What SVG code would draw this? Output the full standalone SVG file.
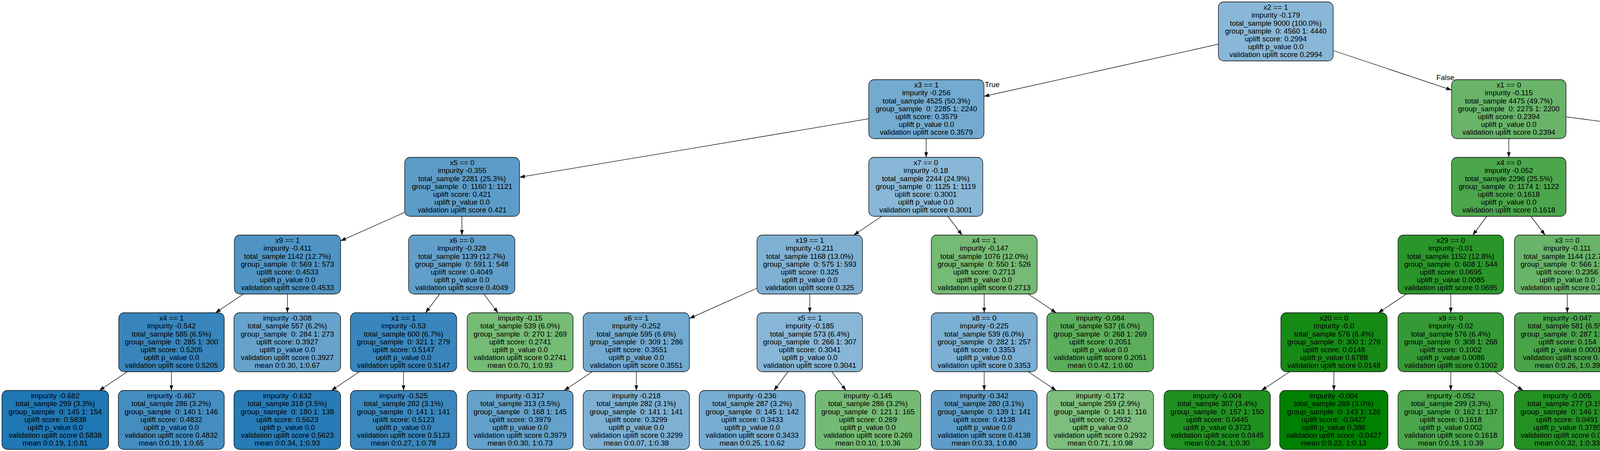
<svg xmlns="http://www.w3.org/2000/svg" width="6533" height="1155" viewBox="0 0 6533 1155">
<style>
.b{fill:#1f77b4;stroke:#000;stroke-width:1.3}
.g{fill:#008000;stroke:#000;stroke-width:1.3}
text{font-family:"Liberation Sans",Arial,sans-serif;font-size:18.8px;fill:#000;text-anchor:middle;white-space:pre}
.lbl{text-anchor:start}
.lbr{text-anchor:end}
.e line{stroke:#000;stroke-width:1.3;fill:none;marker-end:url(#ah)}
</style>
<defs>
<marker id="ah" markerUnits="userSpaceOnUse" markerWidth="14" markerHeight="10" refX="13.5" refY="4.8" orient="auto"><path d="M0,0 L13.5,4.8 L0,9.6 z" fill="#000"/></marker>
</defs>
<rect width="6533" height="1155" fill="#fff"/>
<g id="connectors" class="e">
<line x1="3119" y1="113.2" x2="2519" y2="246.7"/>
<line x1="3413" y1="129.5" x2="3716" y2="230.6"/>
<line x1="2224" y1="304.2" x2="1330" y2="453.9"/>
<line x1="2371" y1="355" x2="2371" y2="403"/>
<line x1="3862.5" y1="355" x2="3862.5" y2="403"/>
<line x1="4009" y1="299.1" x2="5203" y2="458.9"/>
<line x1="1036" y1="543.9" x2="872" y2="616.9"/>
<line x1="1182.5" y1="554" x2="1182.5" y2="602"/>
<line x1="2257.3" y1="554" x2="2185.7" y2="602"/>
<line x1="2426.7" y1="554" x2="2462.8" y2="602"/>
<line x1="3806.2" y1="554" x2="3770.3" y2="602"/>
<line x1="3919.2" y1="554" x2="3955.3" y2="602"/>
<line x1="5349.75" y1="554" x2="5349.75" y2="602"/>
<line x1="5496" y1="517.7" x2="5958" y2="641.4"/>
<line x1="623.3" y1="753" x2="551.7" y2="801"/>
<line x1="735.75" y1="753" x2="735.75" y2="801"/>
<line x1="1125.5" y1="753" x2="1089.5" y2="801"/>
<line x1="1238.7" y1="753" x2="1274.8" y2="801"/>
<line x1="1938" y1="738" x2="1765" y2="815.5"/>
<line x1="2073" y1="753" x2="2073" y2="801"/>
<line x1="2519.5" y1="753" x2="2519.5" y2="801"/>
<line x1="2632.2" y1="753" x2="2703.8" y2="801"/>
<line x1="3600.6" y1="753" x2="3528.4" y2="801"/>
<line x1="3714" y1="753" x2="3714" y2="801"/>
<line x1="4012.25" y1="753" x2="4012.25" y2="801"/>
<line x1="4125.1" y1="753" x2="4196.9" y2="801"/>
<line x1="5293.7" y1="753" x2="5257.8" y2="801"/>
<line x1="5406.7" y1="753" x2="5442.8" y2="801"/>
<line x1="6093" y1="753" x2="6093" y2="801"/>
<line x1="6205.5" y1="753" x2="6277" y2="801"/>
<line x1="326.1" y1="952" x2="254.4" y2="1000"/>
<line x1="438.75" y1="952" x2="438.75" y2="1000"/>
<line x1="920.1" y1="952" x2="848.4" y2="1000"/>
<line x1="1033" y1="952" x2="1033" y2="1000"/>
<line x1="1516.1" y1="952" x2="1444.4" y2="1000"/>
<line x1="1629" y1="952" x2="1629" y2="1000"/>
<line x1="2017" y1="952" x2="1981.5" y2="1000"/>
<line x1="2129.5" y1="952" x2="2165.5" y2="1000"/>
<line x1="2519.5" y1="952" x2="2519.5" y2="1000"/>
<line x1="2632.2" y1="952" x2="2703.8" y2="1000"/>
<line x1="3301.6" y1="952" x2="3229.4" y2="1000"/>
<line x1="3414.75" y1="952" x2="3414.75" y2="1000"/>
<line x1="3714" y1="952" x2="3714" y2="1000"/>
<line x1="3827.1" y1="952" x2="3898.9" y2="1000"/>
<line x1="4310" y1="952" x2="4310" y2="1000"/>
<line x1="4422.5" y1="952" x2="4494" y2="1000"/>
<line x1="5088.4" y1="952" x2="5016.6" y2="1000"/>
<line x1="5201.5" y1="952" x2="5201.5" y2="1000"/>
<line x1="5499.5" y1="952" x2="5499.5" y2="1000"/>
<line x1="5612" y1="952" x2="5683.5" y2="1000"/>
<line x1="6093" y1="952" x2="6093" y2="1000"/>
<line x1="6205.5" y1="952" x2="6277" y2="1000"/>
</g>
<g id="edge-labels">
<text class="lbl" x="2521" y="222.7">True</text>
<text class="lbr" x="3723" y="205">False</text>
</g>
<g id="n0"><rect class="b" fill-opacity="0.53" x="3119" y="5" width="294" height="151" rx="14"/><text y="25.3"><tspan x="3266">x2 == 1</tspan><tspan x="3266" dy="20.1">impurity -0.179</tspan><tspan x="3266" dy="20.1">total_sample 9000 (100.0%)</tspan><tspan x="3266" dy="20.1">group_sample  0: 4560 1: 4440</tspan><tspan x="3266" dy="20.1">uplift score: 0.2994</tspan><tspan x="3266" dy="20.1">uplift p_value 0.0</tspan><tspan x="3266" dy="20.1">validation uplift score 0.2994</tspan></text></g>
<g id="n1"><rect class="b" fill-opacity="0.627" x="2224" y="204" width="295" height="151" rx="14"/><text y="224.3"><tspan x="2371.5">x3 == 1</tspan><tspan x="2371.5" dy="20.1">impurity -0.256</tspan><tspan x="2371.5" dy="20.1">total_sample 4525 (50.3%)</tspan><tspan x="2371.5" dy="20.1">group_sample  0: 2285 1: 2240</tspan><tspan x="2371.5" dy="20.1">uplift score: 0.3579</tspan><tspan x="2371.5" dy="20.1">uplift p_value 0.0</tspan><tspan x="2371.5" dy="20.1">validation uplift score 0.3579</tspan></text></g>
<g id="n2"><rect class="g" fill-opacity="0.588" x="3716" y="204" width="293" height="151" rx="14"/><text y="224.3"><tspan x="3862.5">x1 == 0</tspan><tspan x="3862.5" dy="20.1">impurity -0.115</tspan><tspan x="3862.5" dy="20.1">total_sample 4475 (49.7%)</tspan><tspan x="3862.5" dy="20.1">group_sample  0: 2275 1: 2200</tspan><tspan x="3862.5" dy="20.1">uplift score: 0.2394</tspan><tspan x="3862.5" dy="20.1">uplift p_value 0.0</tspan><tspan x="3862.5" dy="20.1">validation uplift score 0.2394</tspan></text></g>
<g id="n3"><rect class="b" fill-opacity="0.731" x="1036" y="403" width="294" height="151" rx="14"/><text y="423.3"><tspan x="1183">x5 == 0</tspan><tspan x="1183" dy="20.1">impurity -0.355</tspan><tspan x="1183" dy="20.1">total_sample 2281 (25.3%)</tspan><tspan x="1183" dy="20.1">group_sample  0: 1160 1: 1121</tspan><tspan x="1183" dy="20.1">uplift score: 0.421</tspan><tspan x="1183" dy="20.1">uplift p_value 0.0</tspan><tspan x="1183" dy="20.1">validation uplift score 0.421</tspan></text></g>
<g id="n4"><rect class="b" fill-opacity="0.531" x="2224" y="403" width="292" height="151" rx="14"/><text y="423.3"><tspan x="2370">x7 == 0</tspan><tspan x="2370" dy="20.1">impurity -0.18</tspan><tspan x="2370" dy="20.1">total_sample 2244 (24.9%)</tspan><tspan x="2370" dy="20.1">group_sample  0: 1125 1: 1119</tspan><tspan x="2370" dy="20.1">uplift score: 0.3001</tspan><tspan x="2370" dy="20.1">uplift p_value 0.0</tspan><tspan x="2370" dy="20.1">validation uplift score 0.3001</tspan></text></g>
<g id="n5"><rect class="g" fill-opacity="0.701" x="3716" y="403" width="293" height="151" rx="14"/><text y="423.3"><tspan x="3862.5">x4 == 0</tspan><tspan x="3862.5" dy="20.1">impurity -0.052</tspan><tspan x="3862.5" dy="20.1">total_sample 2296 (25.5%)</tspan><tspan x="3862.5" dy="20.1">group_sample  0: 1174 1: 1122</tspan><tspan x="3862.5" dy="20.1">uplift score: 0.1618</tspan><tspan x="3862.5" dy="20.1">uplift p_value 0.0</tspan><tspan x="3862.5" dy="20.1">validation uplift score 0.1618</tspan></text></g>
<g id="n6"><rect class="b" fill-opacity="0.554" x="5203" y="403" width="293" height="151" rx="14"/><text y="423.3"><tspan x="5349.5">x5 == 0</tspan><tspan x="5349.5" dy="20.1">impurity -0.197</tspan><tspan x="5349.5" dy="20.1">total_sample 2179 (24.2%)</tspan><tspan x="5349.5" dy="20.1">group_sample  0: 1101 1: 1078</tspan><tspan x="5349.5" dy="20.1">uplift score: 0.3142</tspan><tspan x="5349.5" dy="20.1">uplift p_value 0.0</tspan><tspan x="5349.5" dy="20.1">validation uplift score 0.3142</tspan></text></g>
<g id="n7"><rect class="b" fill-opacity="0.784" x="600" y="602" width="272" height="151" rx="14"/><text y="622.3"><tspan x="736">x9 == 1</tspan><tspan x="736" dy="20.1">impurity -0.411</tspan><tspan x="736" dy="20.1">total_sample 1142 (12.7%)</tspan><tspan x="736" dy="20.1">group_sample  0: 569 1: 573</tspan><tspan x="736" dy="20.1">uplift score: 0.4533</tspan><tspan x="736" dy="20.1">uplift p_value 0.0</tspan><tspan x="736" dy="20.1">validation uplift score 0.4533</tspan></text></g>
<g id="n8"><rect class="b" fill-opacity="0.704" x="1046" y="602" width="272" height="151" rx="14"/><text y="622.3"><tspan x="1182">x6 == 0</tspan><tspan x="1182" dy="20.1">impurity -0.328</tspan><tspan x="1182" dy="20.1">total_sample 1139 (12.7%)</tspan><tspan x="1182" dy="20.1">group_sample  0: 591 1: 548</tspan><tspan x="1182" dy="20.1">uplift score: 0.4049</tspan><tspan x="1182" dy="20.1">uplift p_value 0.0</tspan><tspan x="1182" dy="20.1">validation uplift score 0.4049</tspan></text></g>
<g id="n9"><rect class="b" fill-opacity="0.572" x="1938" y="602" width="270" height="151" rx="14"/><text y="622.3"><tspan x="2073">x19 == 1</tspan><tspan x="2073" dy="20.1">impurity -0.211</tspan><tspan x="2073" dy="20.1">total_sample 1168 (13.0%)</tspan><tspan x="2073" dy="20.1">group_sample  0: 575 1: 593</tspan><tspan x="2073" dy="20.1">uplift score: 0.325</tspan><tspan x="2073" dy="20.1">uplift p_value 0.0</tspan><tspan x="2073" dy="20.1">validation uplift score 0.325</tspan></text></g>
<g id="n10"><rect class="g" fill-opacity="0.541" x="2384" y="602" width="271" height="151" rx="14"/><text y="622.3"><tspan x="2519.5">x4 == 1</tspan><tspan x="2519.5" dy="20.1">impurity -0.147</tspan><tspan x="2519.5" dy="20.1">total_sample 1076 (12.0%)</tspan><tspan x="2519.5" dy="20.1">group_sample  0: 550 1: 526</tspan><tspan x="2519.5" dy="20.1">uplift score: 0.2713</tspan><tspan x="2519.5" dy="20.1">uplift p_value 0.0</tspan><tspan x="2519.5" dy="20.1">validation uplift score 0.2713</tspan></text></g>
<g id="n11"><rect class="g" fill-opacity="0.836" x="3579" y="602" width="270" height="151" rx="14"/><text y="622.3"><tspan x="3714">x29 == 0</tspan><tspan x="3714" dy="20.1">impurity -0.01</tspan><tspan x="3714" dy="20.1">total_sample 1152 (12.8%)</tspan><tspan x="3714" dy="20.1">group_sample  0: 608 1: 544</tspan><tspan x="3714" dy="20.1">uplift score: 0.0695</tspan><tspan x="3714" dy="20.1">uplift p_value 0.0085</tspan><tspan x="3714" dy="20.1">validation uplift score 0.0695</tspan></text></g>
<g id="n12"><rect class="g" fill-opacity="0.593" x="3877" y="602" width="270" height="151" rx="14"/><text y="622.3"><tspan x="4012">x3 == 0</tspan><tspan x="4012" dy="20.1">impurity -0.111</tspan><tspan x="4012" dy="20.1">total_sample 1144 (12.7%)</tspan><tspan x="4012" dy="20.1">group_sample  0: 566 1: 578</tspan><tspan x="4012" dy="20.1">uplift score: 0.2356</tspan><tspan x="4012" dy="20.1">uplift p_value 0.0</tspan><tspan x="4012" dy="20.1">validation uplift score 0.2356</tspan></text></g>
<g id="n13"><rect class="b" fill-opacity="0.598" x="5215" y="602" width="270" height="151" rx="14"/><text y="622.3"><tspan x="5350">x7 == 0</tspan><tspan x="5350" dy="20.1">impurity -0.232</tspan><tspan x="5350" dy="20.1">total_sample 1138 (12.6%)</tspan><tspan x="5350" dy="20.1">group_sample  0: 556 1: 582</tspan><tspan x="5350" dy="20.1">uplift score: 0.3404</tspan><tspan x="5350" dy="20.1">uplift p_value 0.0</tspan><tspan x="5350" dy="20.1">validation uplift score 0.3404</tspan></text></g>
<g id="n14"><rect class="b" fill-opacity="0.55" x="5958" y="602" width="270" height="151" rx="14"/><text y="622.3"><tspan x="6093">x27 == 1</tspan><tspan x="6093" dy="20.1">impurity -0.194</tspan><tspan x="6093" dy="20.1">total_sample 1041 (11.6%)</tspan><tspan x="6093" dy="20.1">group_sample  0: 545 1: 496</tspan><tspan x="6093" dy="20.1">uplift score: 0.3112</tspan><tspan x="6093" dy="20.1">uplift p_value 0.0</tspan><tspan x="6093" dy="20.1">validation uplift score 0.3112</tspan></text></g>
<g id="n15"><rect class="b" fill-opacity="0.895" x="304" y="801" width="270" height="151" rx="14"/><text y="821.3"><tspan x="439">x4 == 1</tspan><tspan x="439" dy="20.1">impurity -0.542</tspan><tspan x="439" dy="20.1">total_sample 585 (6.5%)</tspan><tspan x="439" dy="20.1">group_sample  0: 285 1: 300</tspan><tspan x="439" dy="20.1">uplift score: 0.5205</tspan><tspan x="439" dy="20.1">uplift p_value 0.0</tspan><tspan x="439" dy="20.1">validation uplift score 0.5205</tspan></text></g>
<g id="n16"><rect class="b" fill-opacity="0.684" x="599" y="801" width="273" height="151" rx="14"/><text y="821.3"><tspan x="735.5">impurity -0.308</tspan><tspan x="735.5" dy="20.1">total_sample 557 (6.2%)</tspan><tspan x="735.5" dy="20.1">group_sample  0: 284 1: 273</tspan><tspan x="735.5" dy="20.1">uplift score: 0.3927</tspan><tspan x="735.5" dy="20.1">uplift p_value 0.0</tspan><tspan x="735.5" dy="20.1">validation uplift score 0.3927</tspan><tspan x="735.5" dy="20.1">mean 0:0.30, 1:0.67</tspan></text></g>
<g id="n17"><rect class="b" fill-opacity="0.886" x="897" y="801" width="272" height="151" rx="14"/><text y="821.3"><tspan x="1033">x1 == 1</tspan><tspan x="1033" dy="20.1">impurity -0.53</tspan><tspan x="1033" dy="20.1">total_sample 600 (6.7%)</tspan><tspan x="1033" dy="20.1">group_sample  0: 321 1: 279</tspan><tspan x="1033" dy="20.1">uplift score: 0.5147</tspan><tspan x="1033" dy="20.1">uplift p_value 0.0</tspan><tspan x="1033" dy="20.1">validation uplift score 0.5147</tspan></text></g>
<g id="n18"><rect class="g" fill-opacity="0.537" x="1196" y="801" width="271" height="151" rx="14"/><text y="821.3"><tspan x="1331.5">impurity -0.15</tspan><tspan x="1331.5" dy="20.1">total_sample 539 (6.0%)</tspan><tspan x="1331.5" dy="20.1">group_sample  0: 270 1: 269</tspan><tspan x="1331.5" dy="20.1">uplift score: 0.2741</tspan><tspan x="1331.5" dy="20.1">uplift p_value 0.0</tspan><tspan x="1331.5" dy="20.1">validation uplift score 0.2741</tspan><tspan x="1331.5" dy="20.1">mean 0:0.70, 1:0.93</tspan></text></g>
<g id="n19"><rect class="b" fill-opacity="0.622" x="1493" y="801" width="272" height="151" rx="14"/><text y="821.3"><tspan x="1629">x6 == 1</tspan><tspan x="1629" dy="20.1">impurity -0.252</tspan><tspan x="1629" dy="20.1">total_sample 595 (6.6%)</tspan><tspan x="1629" dy="20.1">group_sample  0: 309 1: 286</tspan><tspan x="1629" dy="20.1">uplift score: 0.3551</tspan><tspan x="1629" dy="20.1">uplift p_value 0.0</tspan><tspan x="1629" dy="20.1">validation uplift score 0.3551</tspan></text></g>
<g id="n20"><rect class="b" fill-opacity="0.538" x="1938" y="801" width="270" height="151" rx="14"/><text y="821.3"><tspan x="2073">x5 == 1</tspan><tspan x="2073" dy="20.1">impurity -0.185</tspan><tspan x="2073" dy="20.1">total_sample 573 (6.4%)</tspan><tspan x="2073" dy="20.1">group_sample  0: 266 1: 307</tspan><tspan x="2073" dy="20.1">uplift score: 0.3041</tspan><tspan x="2073" dy="20.1">uplift p_value 0.0</tspan><tspan x="2073" dy="20.1">validation uplift score 0.3041</tspan></text></g>
<g id="n21"><rect class="b" fill-opacity="0.589" x="2384" y="801" width="271" height="151" rx="14"/><text y="821.3"><tspan x="2519.5">x8 == 0</tspan><tspan x="2519.5" dy="20.1">impurity -0.225</tspan><tspan x="2519.5" dy="20.1">total_sample 539 (6.0%)</tspan><tspan x="2519.5" dy="20.1">group_sample  0: 282 1: 257</tspan><tspan x="2519.5" dy="20.1">uplift score: 0.3353</tspan><tspan x="2519.5" dy="20.1">uplift p_value 0.0</tspan><tspan x="2519.5" dy="20.1">validation uplift score 0.3353</tspan></text></g>
<g id="n22"><rect class="g" fill-opacity="0.638" x="2680" y="801" width="273" height="151" rx="14"/><text y="821.3"><tspan x="2816.5">impurity -0.084</tspan><tspan x="2816.5" dy="20.1">total_sample 537 (6.0%)</tspan><tspan x="2816.5" dy="20.1">group_sample  0: 268 1: 269</tspan><tspan x="2816.5" dy="20.1">uplift score: 0.2051</tspan><tspan x="2816.5" dy="20.1">uplift p_value 0.0</tspan><tspan x="2816.5" dy="20.1">validation uplift score 0.2051</tspan><tspan x="2816.5" dy="20.1">mean 0:0.42, 1:0.60</tspan></text></g>
<g id="n23"><rect class="g" fill-opacity="0.916" x="3279" y="801" width="272" height="151" rx="14"/><text y="821.3"><tspan x="3415">x20 == 0</tspan><tspan x="3415" dy="20.1">impurity -0.0</tspan><tspan x="3415" dy="20.1">total_sample 576 (6.4%)</tspan><tspan x="3415" dy="20.1">group_sample  0: 300 1: 276</tspan><tspan x="3415" dy="20.1">uplift score: 0.0148</tspan><tspan x="3415" dy="20.1">uplift p_value 0.6788</tspan><tspan x="3415" dy="20.1">validation uplift score 0.0148</tspan></text></g>
<g id="n24"><rect class="g" fill-opacity="0.791" x="3579" y="801" width="270" height="151" rx="14"/><text y="821.3"><tspan x="3714">x9 == 0</tspan><tspan x="3714" dy="20.1">impurity -0.02</tspan><tspan x="3714" dy="20.1">total_sample 576 (6.4%)</tspan><tspan x="3714" dy="20.1">group_sample  0: 308 1: 268</tspan><tspan x="3714" dy="20.1">uplift score: 0.1002</tspan><tspan x="3714" dy="20.1">uplift p_value 0.0086</tspan><tspan x="3714" dy="20.1">validation uplift score 0.1002</tspan></text></g>
<g id="n25"><rect class="g" fill-opacity="0.713" x="3877" y="801" width="271" height="151" rx="14"/><text y="821.3"><tspan x="4012.5">impurity -0.047</tspan><tspan x="4012.5" dy="20.1">total_sample 581 (6.5%)</tspan><tspan x="4012.5" dy="20.1">group_sample  0: 287 1: 294</tspan><tspan x="4012.5" dy="20.1">uplift score: 0.154</tspan><tspan x="4012.5" dy="20.1">uplift p_value 0.0001</tspan><tspan x="4012.5" dy="20.1">validation uplift score 0.154</tspan><tspan x="4012.5" dy="20.1">mean 0:0.26, 1:0.39</tspan></text></g>
<g id="n26"><rect class="b" fill-opacity="0.595" x="4174" y="801" width="272" height="151" rx="14"/><text y="821.3"><tspan x="4310">x8 == 1</tspan><tspan x="4310" dy="20.1">impurity -0.229</tspan><tspan x="4310" dy="20.1">total_sample 563 (6.3%)</tspan><tspan x="4310" dy="20.1">group_sample  0: 279 1: 284</tspan><tspan x="4310" dy="20.1">uplift score: 0.3386</tspan><tspan x="4310" dy="20.1">uplift p_value 0.0</tspan><tspan x="4310" dy="20.1">validation uplift score 0.3386</tspan></text></g>
<g id="n27"><rect class="b" fill-opacity="0.559" x="5066" y="801" width="271" height="151" rx="14"/><text y="821.3"><tspan x="5201.5">x8 == 1</tspan><tspan x="5201.5" dy="20.1">impurity -0.201</tspan><tspan x="5201.5" dy="20.1">total_sample 577 (6.4%)</tspan><tspan x="5201.5" dy="20.1">group_sample  0: 268 1: 309</tspan><tspan x="5201.5" dy="20.1">uplift score: 0.317</tspan><tspan x="5201.5" dy="20.1">uplift p_value 0.0</tspan><tspan x="5201.5" dy="20.1">validation uplift score 0.317</tspan></text></g>
<g id="n28"><rect class="b" fill-opacity="0.673" x="5364" y="801" width="271" height="151" rx="14"/><text y="821.3"><tspan x="5499.5">x4 == 1</tspan><tspan x="5499.5" dy="20.1">impurity -0.298</tspan><tspan x="5499.5" dy="20.1">total_sample 561 (6.2%)</tspan><tspan x="5499.5" dy="20.1">group_sample  0: 288 1: 273</tspan><tspan x="5499.5" dy="20.1">uplift score: 0.3861</tspan><tspan x="5499.5" dy="20.1">uplift p_value 0.0</tspan><tspan x="5499.5" dy="20.1">validation uplift score 0.3861</tspan></text></g>
<g id="n29"><rect class="b" fill-opacity="0.648" x="5958" y="801" width="270" height="151" rx="14"/><text y="821.3"><tspan x="6093">x38 == 1</tspan><tspan x="6093" dy="20.1">impurity -0.275</tspan><tspan x="6093" dy="20.1">total_sample 538 (6.0%)</tspan><tspan x="6093" dy="20.1">group_sample  0: 277 1: 261</tspan><tspan x="6093" dy="20.1">uplift score: 0.3707</tspan><tspan x="6093" dy="20.1">uplift p_value 0.0</tspan><tspan x="6093" dy="20.1">validation uplift score 0.3707</tspan></text></g>
<g id="n30"><rect class="g" fill-opacity="0.572" x="6254" y="801" width="271" height="151" rx="14"/><text y="821.3"><tspan x="6389.5">impurity -0.125</tspan><tspan x="6389.5" dy="20.1">total_sample 503 (5.6%)</tspan><tspan x="6389.5" dy="20.1">group_sample  0: 268 1: 235</tspan><tspan x="6389.5" dy="20.1">uplift score: 0.2499</tspan><tspan x="6389.5" dy="20.1">uplift p_value 0.0</tspan><tspan x="6389.5" dy="20.1">validation uplift score 0.2499</tspan><tspan x="6389.5" dy="20.1">mean 0:0.49, 1:0.71</tspan></text></g>
<g id="n31"><rect class="b" fill-opacity="1" x="5" y="1000" width="273" height="151" rx="14"/><text y="1020.3"><tspan x="141.5">impurity -0.682</tspan><tspan x="141.5" dy="20.1">total_sample 299 (3.3%)</tspan><tspan x="141.5" dy="20.1">group_sample  0: 145 1: 154</tspan><tspan x="141.5" dy="20.1">uplift score: 0.5838</tspan><tspan x="141.5" dy="20.1">uplift p_value 0.0</tspan><tspan x="141.5" dy="20.1">validation uplift score 0.5838</tspan><tspan x="141.5" dy="20.1">mean 0:0.19, 1:0.81</tspan></text></g>
<g id="n32"><rect class="b" fill-opacity="0.834" x="303" y="1000" width="271" height="151" rx="14"/><text y="1020.3"><tspan x="438.5">impurity -0.467</tspan><tspan x="438.5" dy="20.1">total_sample 286 (3.2%)</tspan><tspan x="438.5" dy="20.1">group_sample  0: 140 1: 146</tspan><tspan x="438.5" dy="20.1">uplift score: 0.4832</tspan><tspan x="438.5" dy="20.1">uplift p_value 0.0</tspan><tspan x="438.5" dy="20.1">validation uplift score 0.4832</tspan><tspan x="438.5" dy="20.1">mean 0:0.19, 1:0.65</tspan></text></g>
<g id="n33"><rect class="b" fill-opacity="0.964" x="599" y="1000" width="273" height="151" rx="14"/><text y="1020.3"><tspan x="735.5">impurity -0.632</tspan><tspan x="735.5" dy="20.1">total_sample 318 (3.5%)</tspan><tspan x="735.5" dy="20.1">group_sample  0: 180 1: 138</tspan><tspan x="735.5" dy="20.1">uplift score: 0.5623</tspan><tspan x="735.5" dy="20.1">uplift p_value 0.0</tspan><tspan x="735.5" dy="20.1">validation uplift score 0.5623</tspan><tspan x="735.5" dy="20.1">mean 0:0.34, 1:0.93</tspan></text></g>
<g id="n34"><rect class="b" fill-opacity="0.882" x="897" y="1000" width="272" height="151" rx="14"/><text y="1020.3"><tspan x="1033">impurity -0.525</tspan><tspan x="1033" dy="20.1">total_sample 282 (3.1%)</tspan><tspan x="1033" dy="20.1">group_sample  0: 141 1: 141</tspan><tspan x="1033" dy="20.1">uplift score: 0.5123</tspan><tspan x="1033" dy="20.1">uplift p_value 0.0</tspan><tspan x="1033" dy="20.1">validation uplift score 0.5123</tspan><tspan x="1033" dy="20.1">mean 0:0.27, 1:0.78</tspan></text></g>
<g id="n35"><rect class="b" fill-opacity="0.693" x="1196" y="1000" width="271" height="151" rx="14"/><text y="1020.3"><tspan x="1331.5">impurity -0.317</tspan><tspan x="1331.5" dy="20.1">total_sample 313 (3.5%)</tspan><tspan x="1331.5" dy="20.1">group_sample  0: 168 1: 145</tspan><tspan x="1331.5" dy="20.1">uplift score: 0.3979</tspan><tspan x="1331.5" dy="20.1">uplift p_value 0.0</tspan><tspan x="1331.5" dy="20.1">validation uplift score 0.3979</tspan><tspan x="1331.5" dy="20.1">mean 0:0.30, 1:0.73</tspan></text></g>
<g id="n36"><rect class="b" fill-opacity="0.58" x="1493" y="1000" width="272" height="151" rx="14"/><text y="1020.3"><tspan x="1629">impurity -0.218</tspan><tspan x="1629" dy="20.1">total_sample 282 (3.1%)</tspan><tspan x="1629" dy="20.1">group_sample  0: 141 1: 141</tspan><tspan x="1629" dy="20.1">uplift score: 0.3299</tspan><tspan x="1629" dy="20.1">uplift p_value 0.0</tspan><tspan x="1629" dy="20.1">validation uplift score 0.3299</tspan><tspan x="1629" dy="20.1">mean 0:0.07, 1:0.38</tspan></text></g>
<g id="n37"><rect class="b" fill-opacity="0.603" x="1790" y="1000" width="271" height="151" rx="14"/><text y="1020.3"><tspan x="1925.5">impurity -0.236</tspan><tspan x="1925.5" dy="20.1">total_sample 287 (3.2%)</tspan><tspan x="1925.5" dy="20.1">group_sample  0: 145 1: 142</tspan><tspan x="1925.5" dy="20.1">uplift score: 0.3433</tspan><tspan x="1925.5" dy="20.1">uplift p_value 0.0</tspan><tspan x="1925.5" dy="20.1">validation uplift score 0.3433</tspan><tspan x="1925.5" dy="20.1">mean 0:0.25, 1:0.62</tspan></text></g>
<g id="n38"><rect class="g" fill-opacity="0.544" x="2087" y="1000" width="270" height="151" rx="14"/><text y="1020.3"><tspan x="2222">impurity -0.145</tspan><tspan x="2222" dy="20.1">total_sample 286 (3.2%)</tspan><tspan x="2222" dy="20.1">group_sample  0: 121 1: 165</tspan><tspan x="2222" dy="20.1">uplift score: 0.269</tspan><tspan x="2222" dy="20.1">uplift p_value 0.0</tspan><tspan x="2222" dy="20.1">validation uplift score 0.269</tspan><tspan x="2222" dy="20.1">mean 0:0.10, 1:0.36</tspan></text></g>
<g id="n39"><rect class="b" fill-opacity="0.719" x="2384" y="1000" width="271" height="151" rx="14"/><text y="1020.3"><tspan x="2519.5">impurity -0.342</tspan><tspan x="2519.5" dy="20.1">total_sample 280 (3.1%)</tspan><tspan x="2519.5" dy="20.1">group_sample  0: 139 1: 141</tspan><tspan x="2519.5" dy="20.1">uplift score: 0.4138</tspan><tspan x="2519.5" dy="20.1">uplift p_value 0.0</tspan><tspan x="2519.5" dy="20.1">validation uplift score 0.4138</tspan><tspan x="2519.5" dy="20.1">mean 0:0.33, 1:0.80</tspan></text></g>
<g id="n40"><rect class="g" fill-opacity="0.509" x="2680" y="1000" width="273" height="151" rx="14"/><text y="1020.3"><tspan x="2816.5">impurity -0.172</tspan><tspan x="2816.5" dy="20.1">total_sample 259 (2.9%)</tspan><tspan x="2816.5" dy="20.1">group_sample  0: 143 1: 116</tspan><tspan x="2816.5" dy="20.1">uplift score: 0.2932</tspan><tspan x="2816.5" dy="20.1">uplift p_value 0.0</tspan><tspan x="2816.5" dy="20.1">validation uplift score 0.2932</tspan><tspan x="2816.5" dy="20.1">mean 0:0.71, 1:0.98</tspan></text></g>
<g id="n41"><rect class="g" fill-opacity="0.873" x="2980" y="1000" width="272" height="151" rx="14"/><text y="1020.3"><tspan x="3116">impurity -0.004</tspan><tspan x="3116" dy="20.1">total_sample 307 (3.4%)</tspan><tspan x="3116" dy="20.1">group_sample  0: 157 1: 150</tspan><tspan x="3116" dy="20.1">uplift score: 0.0445</tspan><tspan x="3116" dy="20.1">uplift p_value 0.3723</tspan><tspan x="3116" dy="20.1">validation uplift score 0.0445</tspan><tspan x="3116" dy="20.1">mean 0:0.24, 1:0.30</tspan></text></g>
<g id="n42"><rect class="g" fill-opacity="1" x="3276" y="1000" width="277" height="151" rx="14"/><text y="1020.3"><tspan x="3414.5">impurity -0.004</tspan><tspan x="3414.5" dy="20.1">total_sample 269 (3.0%)</tspan><tspan x="3414.5" dy="20.1">group_sample  0: 143 1: 126</tspan><tspan x="3414.5" dy="20.1">uplift score: -0.0427</tspan><tspan x="3414.5" dy="20.1">uplift p_value 0.386</tspan><tspan x="3414.5" dy="20.1">validation uplift score -0.0427</tspan><tspan x="3414.5" dy="20.1">mean 0:0.22, 1:0.13</tspan></text></g>
<g id="n43"><rect class="g" fill-opacity="0.701" x="3579" y="1000" width="270" height="151" rx="14"/><text y="1020.3"><tspan x="3714">impurity -0.052</tspan><tspan x="3714" dy="20.1">total_sample 299 (3.3%)</tspan><tspan x="3714" dy="20.1">group_sample  0: 162 1: 137</tspan><tspan x="3714" dy="20.1">uplift score: 0.1618</tspan><tspan x="3714" dy="20.1">uplift p_value 0.002</tspan><tspan x="3714" dy="20.1">validation uplift score 0.1618</tspan><tspan x="3714" dy="20.1">mean 0:0.19, 1:0.39</tspan></text></g>
<g id="n44"><rect class="g" fill-opacity="0.866" x="3877" y="1000" width="270" height="151" rx="14"/><text y="1020.3"><tspan x="4012">impurity -0.005</tspan><tspan x="4012" dy="20.1">total_sample 277 (3.1%)</tspan><tspan x="4012" dy="20.1">group_sample  0: 146 1: 131</tspan><tspan x="4012" dy="20.1">uplift score: 0.0491</tspan><tspan x="4012" dy="20.1">uplift p_value 0.3785</tspan><tspan x="4012" dy="20.1">validation uplift score 0.0491</tspan><tspan x="4012" dy="20.1">mean 0:0.32, 1:0.33</tspan></text></g>
<g id="n45"><rect class="b" fill-opacity="0.617" x="4174" y="1000" width="272" height="151" rx="14"/><text y="1020.3"><tspan x="4310">impurity -0.248</tspan><tspan x="4310" dy="20.1">total_sample 301 (3.3%)</tspan><tspan x="4310" dy="20.1">group_sample  0: 157 1: 144</tspan><tspan x="4310" dy="20.1">uplift score: 0.3521</tspan><tspan x="4310" dy="20.1">uplift p_value 0.0</tspan><tspan x="4310" dy="20.1">validation uplift score 0.3521</tspan><tspan x="4310" dy="20.1">mean 0:0.44, 1:0.81</tspan></text></g>
<g id="n46"><rect class="b" fill-opacity="0.661" x="4471" y="1000" width="271" height="151" rx="14"/><text y="1020.3"><tspan x="4606.5">impurity -0.286</tspan><tspan x="4606.5" dy="20.1">total_sample 262 (2.9%)</tspan><tspan x="4606.5" dy="20.1">group_sample  0: 122 1: 140</tspan><tspan x="4606.5" dy="20.1">uplift score: 0.3785</tspan><tspan x="4606.5" dy="20.1">uplift p_value 0.0</tspan><tspan x="4606.5" dy="20.1">validation uplift score 0.3785</tspan><tspan x="4606.5" dy="20.1">mean 0:0.16, 1:0.57</tspan></text></g>
<g id="n47"><rect class="b" fill-opacity="0.642" x="4767" y="1000" width="273" height="151" rx="14"/><text y="1020.3"><tspan x="4903.5">impurity -0.27</tspan><tspan x="4903.5" dy="20.1">total_sample 301 (3.3%)</tspan><tspan x="4903.5" dy="20.1">group_sample  0: 138 1: 163</tspan><tspan x="4903.5" dy="20.1">uplift score: 0.3672</tspan><tspan x="4903.5" dy="20.1">uplift p_value 0.0</tspan><tspan x="4903.5" dy="20.1">validation uplift score 0.3672</tspan><tspan x="4903.5" dy="20.1">mean 0:0.14, 1:0.53</tspan></text></g>
<g id="n48"><rect class="g" fill-opacity="0.564" x="5066" y="1000" width="271" height="151" rx="14"/><text y="1020.3"><tspan x="5201.5">impurity -0.131</tspan><tspan x="5201.5" dy="20.1">total_sample 276 (3.1%)</tspan><tspan x="5201.5" dy="20.1">group_sample  0: 130 1: 146</tspan><tspan x="5201.5" dy="20.1">uplift score: 0.2559</tspan><tspan x="5201.5" dy="20.1">uplift p_value 0.0</tspan><tspan x="5201.5" dy="20.1">validation uplift score 0.2559</tspan><tspan x="5201.5" dy="20.1">mean 0:0.00, 1:0.22</tspan></text></g>
<g id="n49"><rect class="b" fill-opacity="0.789" x="5364" y="1000" width="271" height="151" rx="14"/><text y="1020.3"><tspan x="5499.5">impurity -0.416</tspan><tspan x="5499.5" dy="20.1">total_sample 283 (3.1%)</tspan><tspan x="5499.5" dy="20.1">group_sample  0: 143 1: 140</tspan><tspan x="5499.5" dy="20.1">uplift score: 0.4562</tspan><tspan x="5499.5" dy="20.1">uplift p_value 0.0</tspan><tspan x="5499.5" dy="20.1">validation uplift score 0.4562</tspan><tspan x="5499.5" dy="20.1">mean 0:0.31, 1:0.81</tspan></text></g>
<g id="n50"><rect class="b" fill-opacity="0.587" x="5660" y="1000" width="272" height="151" rx="14"/><text y="1020.3"><tspan x="5796">impurity -0.223</tspan><tspan x="5796" dy="20.1">total_sample 278 (3.1%)</tspan><tspan x="5796" dy="20.1">group_sample  0: 145 1: 133</tspan><tspan x="5796" dy="20.1">uplift score: 0.334</tspan><tspan x="5796" dy="20.1">uplift p_value 0.0</tspan><tspan x="5796" dy="20.1">validation uplift score 0.334</tspan><tspan x="5796" dy="20.1">mean 0:0.27, 1:0.56</tspan></text></g>
<g id="n51"><rect class="b" fill-opacity="0.552" x="5958" y="1000" width="270" height="151" rx="14"/><text y="1020.3"><tspan x="6093">impurity -0.195</tspan><tspan x="6093" dy="20.1">total_sample 279 (3.1%)</tspan><tspan x="6093" dy="20.1">group_sample  0: 141 1: 138</tspan><tspan x="6093" dy="20.1">uplift score: 0.3124</tspan><tspan x="6093" dy="20.1">uplift p_value 0.0</tspan><tspan x="6093" dy="20.1">validation uplift score 0.3124</tspan><tspan x="6093" dy="20.1">mean 0:0.43, 1:0.70</tspan></text></g>
<g id="n52"><rect class="b" fill-opacity="0.794" x="6254" y="1000" width="271" height="151" rx="14"/><text y="1020.3"><tspan x="6389.5">impurity -0.421</tspan><tspan x="6389.5" dy="20.1">total_sample 259 (2.9%)</tspan><tspan x="6389.5" dy="20.1">group_sample  0: 136 1: 123</tspan><tspan x="6389.5" dy="20.1">uplift score: 0.459</tspan><tspan x="6389.5" dy="20.1">uplift p_value 0.0</tspan><tspan x="6389.5" dy="20.1">validation uplift score 0.459</tspan><tspan x="6389.5" dy="20.1">mean 0:0.40, 1:0.93</tspan></text></g>
</svg>
